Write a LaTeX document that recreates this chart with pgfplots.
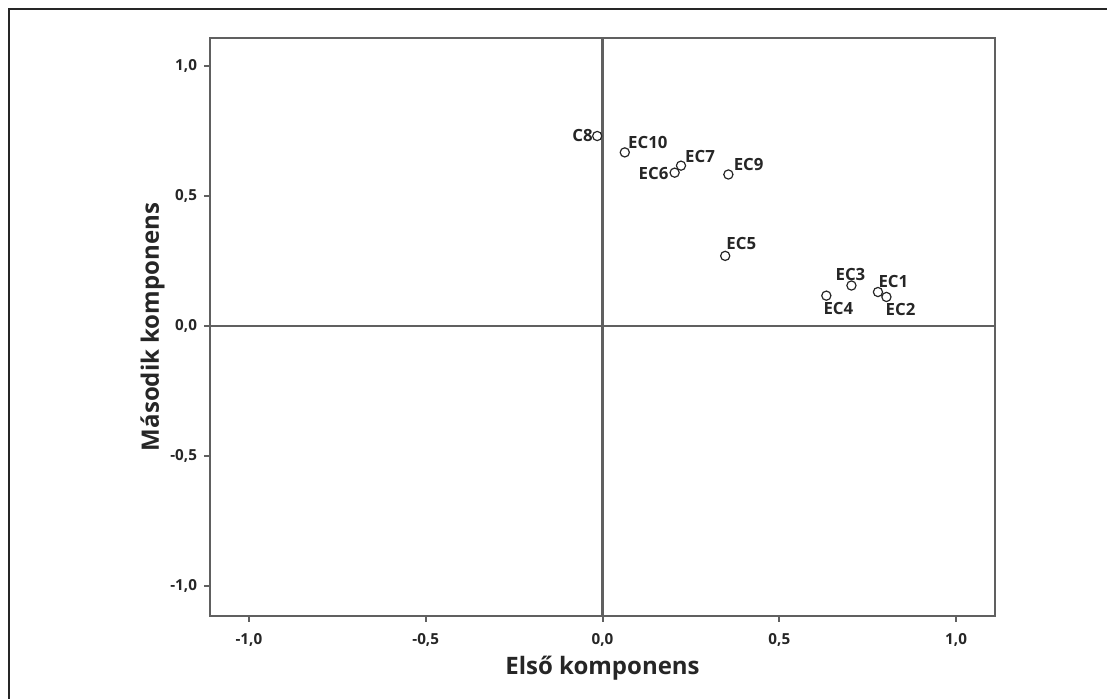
\documentclass[border=0pt]{standalone}
\usepackage{pgfplots}
\pgfplotsset{compat=1.18}
\usepackage{fontspec}
\setmainfont{Open Sans}
\definecolor{axgray}{HTML}{606060}
\definecolor{txt}{HTML}{262626}
\begin{document}
\begin{tikzpicture}
\useasboundingbox (0,0) rectangle (553.5pt,349.5pt);
\draw[color=txt, line width=0.6pt] (4.5pt,0) -- (4.5pt,345pt) -- (553.5pt,345pt);
\begin{axis}[
  at={(105pt,41.5pt)}, anchor=south west,
  scale only axis, width=392.5pt, height=289pt,
  xmin=-1.11, xmax=1.11, ymin=-1.115, ymax=1.108,
  xtick={-1,-0.5,0,0.5,1}, ytick={-1,-0.5,0,0.5,1},
  tick align=outside, tick pos=left,
  major tick length=3pt,
  axis line style={axgray, line width=1.1pt},
  every tick/.style={axgray, line width=1pt},
  /pgf/number format/.cd, use comma, fixed, fixed zerofill, precision=1, assume math mode=true,
  /pgfplots/.cd,
  tick label style={font=\bfseries\fontsize{7.6}{9}\selectfont, text=txt},
  xticklabel style={yshift=-2pt},
  xlabel={Első komponens}, ylabel={Második komponens},
  label style={font=\bfseries\fontsize{12}{14}\selectfont, text=txt},
  xlabel style={yshift=2pt},
  ylabel style={yshift=-4pt},
  clip=false,
]
\draw[axgray, line width=1.1pt] (axis cs:0,-1.115) -- (axis cs:0,1.108);
\draw[axgray, line width=1.1pt] (axis cs:-1.11,0) -- (axis cs:1.11,0);
\addplot[only marks, mark=o, mark size=2.3pt, mark options={line width=0.6pt, draw=txt},
  point meta=explicit symbolic,
  visualization depends on={value \thisrow{anc} \as \anc},
  visualization depends on={value \thisrow{dx} \as \dx},
  visualization depends on={value \thisrow{dy} \as \dy},
  nodes near coords={\pgfplotspointmeta},
  every node near coord/.append style={anchor=\anc, xshift=\dx pt, yshift=\dy pt,
     font=\bfseries\fontsize{8.4}{9}\selectfont, text=txt, inner sep=0.8pt},
] table[x=x, y=y, meta=lab] {
x y lab anc dx dy
-0.015 0.731 C8 east -1.2 0.3
0.063 0.668 EC10 {south west} 0.6 0.8
0.204 0.590 EC6 east -2 -0.3
0.222 0.617 EC7 {south west} 1.0 0.3
0.356 0.583 EC9 {south west} 1.6 0.6
0.347 0.270 EC5 {south west} -0.5 2.2
0.704 0.156 EC3 south -0.5 1.5
0.779 0.131 EC1 {south west} -0.8 1.3
0.803 0.112 EC2 {north west} -1.5 -2.0
0.633 0.117 EC4 {north west} -2.5 -2.3
};
\end{axis}
\end{tikzpicture}
\end{document}
